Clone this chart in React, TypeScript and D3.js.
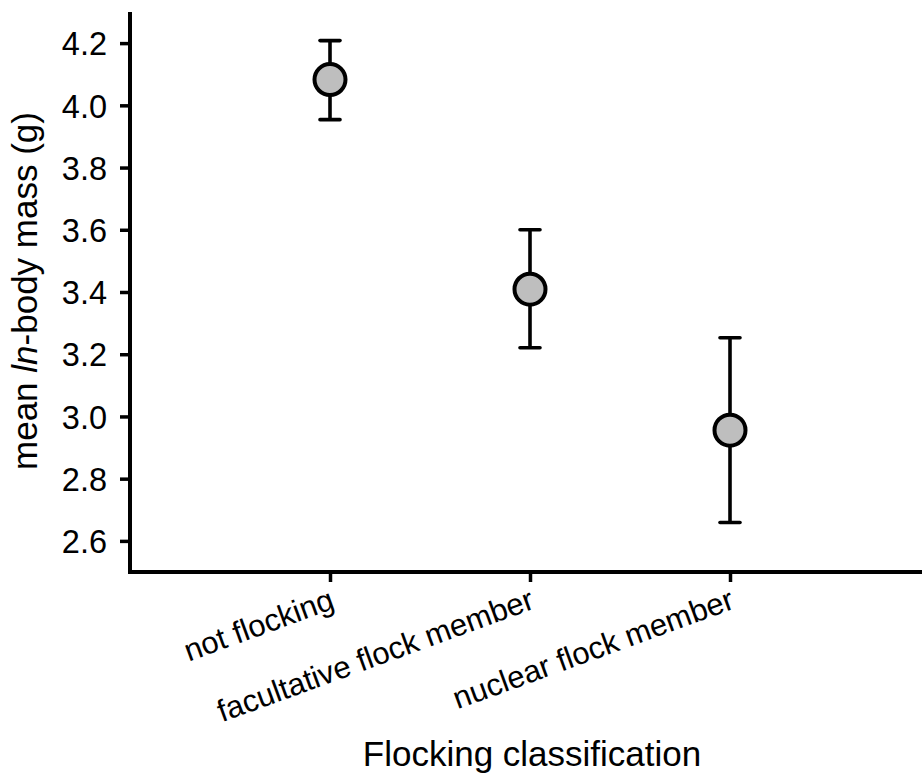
import React, { useEffect, useRef } from "react";
import * as d3 from "d3";

const categories = ["not flocking", "facultative flock member", "nuclear flock member"];
const means = [4.083, 3.409, 2.956];
const upper = [4.208, 3.6, 3.253];
const lower = [3.954, 3.221, 2.659];
const yTicks = [2.6, 2.8, 3.0, 3.2, 3.4, 3.6, 3.8, 4.0, 4.2];

const App = () => {
  const svgRef = useRef<SVGSVGElement>(null);

  useEffect(() => {
    const width = 922;
    const height = 776;
    const left = 130;
    const bottom = 572;
    const font = "'Liberation Sans', Arial, Helvetica, sans-serif";

    const svg = d3.select(svgRef.current);
    svg.selectAll("*").remove();
    svg.attr("width", width).attr("height", height).style("font-family", font);

    const x = d3.scalePoint<string>().domain(categories).range([left, 930]).padding(1);
    const y = d3.scaleLinear().domain([2.5, 4.3]).range([bottom, 12]);

    // y axis
    const yAxis = svg
      .append("g")
      .attr("transform", `translate(${left},0)`)
      .call(
        d3
          .axisLeft(y)
          .tickValues(yTicks)
          .tickSize(10)
          .tickPadding(13)
          .tickFormat(d3.format(".1f"))
      );
    yAxis.select(".domain").remove();
    yAxis.selectAll(".tick line").attr("stroke", "#000").attr("stroke-width", 3.5);
    yAxis
      .selectAll(".tick text")
      .attr("fill", "#000")
      .style("font-size", "32.5px")
      .attr("dy", "0.36em");

    // x axis
    const xAxis = svg
      .append("g")
      .attr("transform", `translate(0,${bottom})`)
      .call(d3.axisBottom(x).tickSize(10).tickFormat(() => ""));
    xAxis.select(".domain").remove();
    xAxis.selectAll(".tick line").attr("stroke", "#000").attr("stroke-width", 3.5);

    svg
      .append("g")
      .selectAll("text")
      .data(categories)
      .join("text")
      .attr("transform", (d) => `translate(${(x(d) ?? 0) + 6},${bottom + 36}) rotate(-20)`)
      .attr("text-anchor", "end")
      .style("font-size", "31px")
      .attr("fill", "#000")
      .text((d) => d);

    // axis lines
    svg
      .append("line")
      .attr("x1", left)
      .attr("x2", left)
      .attr("y1", y(4.3))
      .attr("y2", bottom + 2)
      .attr("stroke", "#000")
      .attr("stroke-width", 4);
    svg
      .append("line")
      .attr("x1", left - 2)
      .attr("x2", 930)
      .attr("y1", bottom)
      .attr("y2", bottom)
      .attr("stroke", "#000")
      .attr("stroke-width", 4);

    // titles
    svg
      .append("text")
      .attr("transform", `translate(37,291) rotate(-90)`)
      .attr("text-anchor", "middle")
      .style("font-size", "35px")
      .attr("fill", "#000")
      .call((t) => {
        t.append("tspan").text("mean ");
        t.append("tspan").style("font-style", "italic").text("ln");
        t.append("tspan").text("-body mass (g)");
      });

    svg
      .append("text")
      .attr("x", 532)
      .attr("y", 766)
      .attr("text-anchor", "middle")
      .style("font-size", "35px")
      .attr("fill", "#000")
      .text("Flocking classification");

    // error bars and points
    const idx = d3.range(categories.length);
    const g = svg.append("g").attr("stroke", "#000").attr("stroke-width", 3.6);
    g.selectAll("line.bar")
      .data(idx)
      .join("line")
      .attr("class", "bar")
      .attr("x1", (i) => x(categories[i]) ?? 0)
      .attr("x2", (i) => x(categories[i]) ?? 0)
      .attr("y1", (i) => y(upper[i]))
      .attr("y2", (i) => y(lower[i]));
    g.selectAll("line.capTop")
      .data(idx)
      .join("line")
      .attr("class", "capTop")
      .attr("x1", (i) => (x(categories[i]) ?? 0) - 10)
      .attr("x2", (i) => (x(categories[i]) ?? 0) + 10)
      .attr("y1", (i) => y(upper[i]))
      .attr("y2", (i) => y(upper[i]))
      .attr("stroke-linecap", "round");
    g.selectAll("line.capBottom")
      .data(idx)
      .join("line")
      .attr("class", "capBottom")
      .attr("x1", (i) => (x(categories[i]) ?? 0) - 10)
      .attr("x2", (i) => (x(categories[i]) ?? 0) + 10)
      .attr("y1", (i) => y(lower[i]))
      .attr("y2", (i) => y(lower[i]))
      .attr("stroke-linecap", "round");

    svg
      .append("g")
      .selectAll("circle")
      .data(idx)
      .join("circle")
      .attr("cx", (i) => x(categories[i]) ?? 0)
      .attr("cy", (i) => y(means[i]))
      .attr("r", 15.5)
      .attr("fill", "#bebebe")
      .attr("stroke", "#000")
      .attr("stroke-width", 4);
  }, []);

  return (
    <svg
      ref={svgRef}
      style={{ position: "absolute", left: 0, top: 0, background: "#fff" }}
    ></svg>
  );
};

export default App;
